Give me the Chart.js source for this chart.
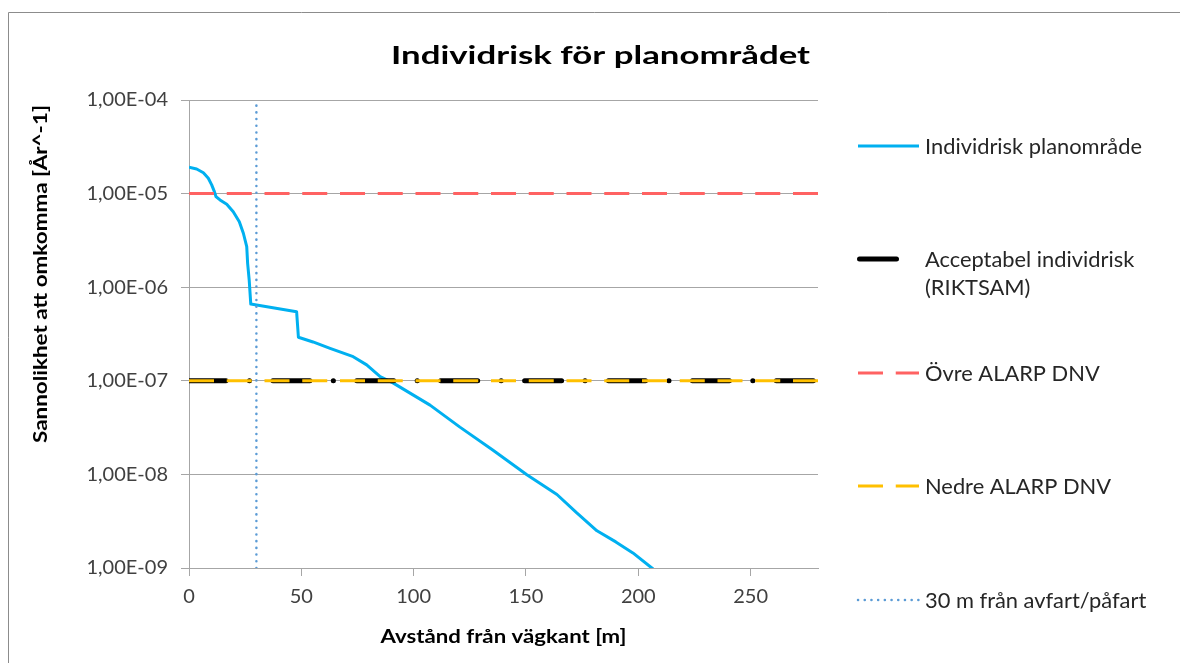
<!DOCTYPE html>
<html><head><meta charset="utf-8">
<script src="https://cdn.jsdelivr.net/npm/chart.js@4.4.0/dist/chart.umd.min.js"></script>
<style>html,body{margin:0;padding:0;background:#fff;overflow:hidden}</style>
</head><body>
<canvas id="c" width="1180" height="663"></canvas>
<script>
// ---- data ----
const distance = [0, 3.4, 6.4, 8.6, 10.1, 11.3, 12.0, 13.8, 16.8, 19.7, 22.4, 24.2, 25.7, 26.1, 26.8, 27.5, 30.1, 47.9, 48.7, 55.2, 62.8, 73.1, 79.1, 85.1, 90.8, 107.3, 120.6, 135.2, 150.4, 163.8, 172.5, 181.6, 190.0, 197.6, 206.6];
const risk = [1.91e-5, 1.83e-5, 1.67e-5, 1.46e-5, 1.24e-5, 1.05e-5, 9.3e-6, 8.55e-6, 7.7e-6, 6.4e-6, 5.0e-6, 3.77e-6, 2.71e-6, 1.80e-6, 1.19e-6, 6.6e-7, 6.46e-7, 5.47e-7, 2.92e-7, 2.6e-7, 2.22e-7, 1.81e-7, 1.48e-7, 1.11e-7, 9.5e-8, 5.5e-8, 3.2e-8, 1.82e-8, 9.9e-9, 6.1e-9, 3.9e-9, 2.5e-9, 1.9e-9, 1.45e-9, 9.75e-10];
const xRange = [0, 280];
const acceptableRisk = 1e-7;   // RIKTSAM
const upperAlarp = 1e-5;       // Övre ALARP DNV
const lowerAlarp = 1e-7;       // Nedre ALARP DNV
const rampDistance = 30;       // 30 m från avfart/påfart
const rampYRange = [1e-9, 1e-4];
const xTicks = [0, 50, 100, 150, 200, 250];
const yTicks = [1e-9, 1e-8, 1e-7, 1e-6, 1e-5, 1e-4];
const seriesLabels = ['Individrisk planområde', 'Acceptabel individrisk (RIKTSAM)', 'Övre ALARP DNV', 'Nedre ALARP DNV', '30 m från avfart/påfart'];
const titleText = 'Individrisk för planområdet';
const xTitle = 'Avstånd från vägkant [m]';
const yTitle = 'Sannolikhet att omkomma [År^-1]';

const FONT = 'Lato, "Noto Sans", sans-serif';
const GRID = '#A6A6A6';

function fmtExp(v) {
  const e = Math.round(Math.log10(v));
  const m = v / Math.pow(10, e);
  const sign = e < 0 ? '-' : '+';
  const ab = Math.abs(e);
  return m.toFixed(2).replace('.', ',') + 'E' + sign + (ab < 10 ? '0' : '') + ab;
}

const hLine = y => [{x: xRange[0], y: y}, {x: xRange[1], y: y}];

const datasets = [
  {label: seriesLabels[0], data: distance.map((x, i) => ({x: x, y: risk[i]})), borderColor: '#00B0F0', borderWidth: 3, borderJoinStyle: 'round', order: 5},
  {label: seriesLabels[1], data: hLine(acceptableRisk), borderColor: '#000000', borderWidth: 5, borderDash: [37, 23.4, 0.1, 23.4], borderCapStyle: 'round', order: 4},
  {label: seriesLabels[2], data: hLine(upperAlarp), borderColor: '#FF6262', borderWidth: 3, borderDash: [25, 12.75], order: 3},
  {label: seriesLabels[3], data: hLine(lowerAlarp), borderColor: '#FFC000', borderWidth: 3, borderDash: [25, 12.75], order: 2},
  {label: seriesLabels[4], data: rampYRange.map(y => ({x: rampDistance, y: y})), borderColor: '#5B9BD5', borderWidth: 2.5, borderDash: [0.1, 6.6], borderCapStyle: 'round', order: 1}
];
datasets.forEach(d => { d.showLine = true; d.pointRadius = 0; d.pointHoverRadius = 0; d.fill = false; d.tension = 0; });

const legendLayout = [
  {ds: 0, y: 146, x0: 858, x1: 919},
  {ds: 1, y: 259, x0: 859.5, x1: 899, lines: ['Acceptabel individrisk', '(RIKTSAM)']},
  {ds: 2, y: 373, x0: 858, x1: 919},
  {ds: 3, y: 486, x0: 858, x1: 919},
  {ds: 4, y: 600, x0: 858, x1: 919}
];

// draw text with given cap-centre y, optionally stretched horizontally to a target width
function drawText(ctx, text, x, cy, font, capRatio, size, targetW, align) {
  ctx.save();
  ctx.font = font;
  const w = ctx.measureText(text).width;
  const sx = targetW ? targetW / w : 1;
  ctx.textBaseline = 'alphabetic';
  ctx.textAlign = 'left';
  let left = x;
  if (align === 'center') left = x - w * sx / 2;
  ctx.translate(left, cy + capRatio * size / 2);
  ctx.scale(sx, 1);
  ctx.fillText(text, 0, 0);
  ctx.restore();
  return sx;
}

const decor = {
  id: 'decor',
  beforeDraw(chart) {
    const ctx = chart.ctx;
    ctx.save();
    ctx.strokeStyle = '#8C8C8C';
    ctx.lineWidth = 1;
    ctx.beginPath();
    ctx.moveTo(8.5, 663);
    ctx.lineTo(8.5, 12.5);
    ctx.lineTo(1180, 12.5);
    ctx.stroke();
    ctx.restore();
  },
  afterDraw(chart) {
    const ctx = chart.ctx;
    const ca = chart.chartArea;
    ctx.save();
    ctx.fillStyle = '#000';
    // title
    drawText(ctx, titleText, 600.5, 54.5, 'bold 25.5px ' + FONT, 0.72, 25.5, 419, 'center');
    // axis titles
    drawText(ctx, xTitle, (ca.left + ca.right) / 2, 636, 'bold 18.5px ' + FONT, 0.72, 18.5, 246, 'center');
    ctx.save();
    ctx.translate(40, 274);
    ctx.rotate(-Math.PI / 2);
    drawText(ctx, yTitle, 0, 0, 'bold 18.5px ' + FONT, 0.72, 18.5, 338, 'center');
    ctx.restore();
    // legend
    ctx.font = '21px ' + FONT;
    const sx = 217 / ctx.measureText(seriesLabels[0]).width;
    legendLayout.forEach(it => {
      const ds = chart.data.datasets[it.ds];
      ctx.save();
      ctx.strokeStyle = ds.borderColor;
      ctx.lineWidth = ds.borderWidth;
      ctx.setLineDash(ds.borderDash || []);
      ctx.lineCap = ds.borderCapStyle || 'butt';
      ctx.beginPath();
      ctx.moveTo(it.x0, it.y);
      ctx.lineTo(it.x1, it.y);
      ctx.stroke();
      ctx.restore();
      ctx.fillStyle = '#262626';
      const lines = it.lines || [ds.label];
      lines.forEach((t, k) => {
        ctx.save();
        ctx.font = '21px ' + FONT;
        const w = ctx.measureText(t).width;
        drawText(ctx, t, 925, it.y + k * 28, '21px ' + FONT, 0.72, 21, w * sx, 'left');
        ctx.restore();
      });
    });
    ctx.restore();
  }
};

new Chart(document.getElementById('c'), {
  type: 'scatter',
  data: {datasets: datasets},
  options: {
    responsive: false,
    animation: false,
    events: [],
    layout: {padding: {left: 0, right: 362, top: 100, bottom: 0}},
    plugins: {legend: {display: false}, tooltip: {enabled: false}, title: {display: false}},
    scales: {
      x: {
        type: 'linear', min: xRange[0], max: xRange[1],
        afterFit(s) { s.height = 95; },
        afterBuildTicks(s) { s.ticks = xTicks.map(v => ({value: v})); },
        grid: {drawOnChartArea: false, drawTicks: true, tickLength: 8, color: GRID},
        border: {display: true, color: GRID, width: 1},
        ticks: {padding: 9, color: '#404040', font: {family: FONT, size: 20}, maxRotation: 0, autoSkip: false}
      },
      y: {
        type: 'logarithmic', min: yTicks[0], max: yTicks[yTicks.length - 1],
        afterFit(s) { s.width = 189; },
        afterBuildTicks(s) { s.ticks = yTicks.map(v => ({value: v, major: true})); },
        grid: {drawOnChartArea: true, drawTicks: true, tickLength: 8, color: GRID},
        border: {display: true, color: GRID, width: 1},
        ticks: {padding: 13, color: '#404040', font: {family: FONT, size: 20}, autoSkip: false, callback: v => fmtExp(v)}
      }
    }
  },
  plugins: [decor]
});
</script>
</body></html>
